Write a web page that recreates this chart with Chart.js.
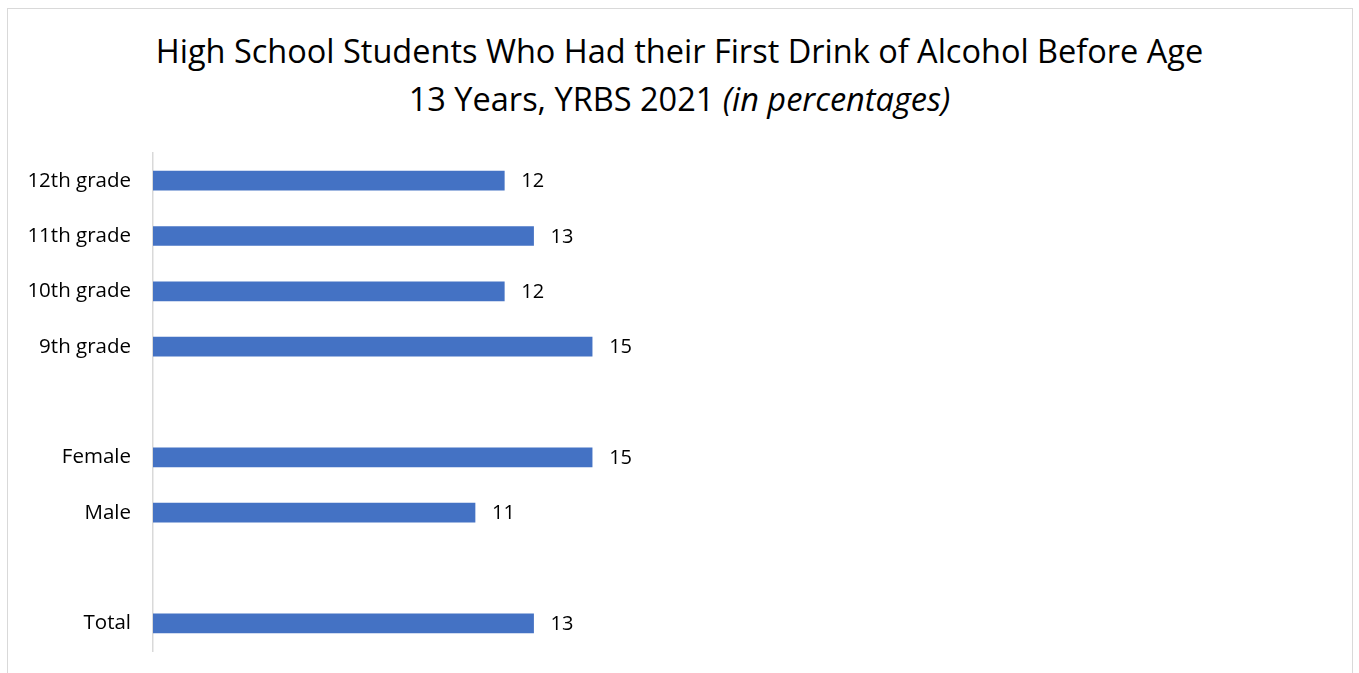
<!DOCTYPE html>
<html lang="en">
<head>
  <meta charset="UTF-8">
  <title>First Drink of Alcohol Before Age 13</title>
  <script src="https://cdn.jsdelivr.net/npm/chart.js"></script>
  <style>
    html, body { margin: 0; padding: 0; background: #fff; overflow: hidden; }
    body { width: 1359px; height: 673px; position: relative; font-family: "Open Sans", sans-serif; }
    .frame { position: absolute; left: 7px; top: 8px; width: 1346px; height: 700px; border: 1px solid #d9d9d9; box-sizing: border-box; }
    .title { position: absolute; left: 0; top: 27px; width: 1359px; text-align: center; font-size: 32.5px; line-height: 48px; color: #000; }
    #wrap { position: absolute; left: 0; top: 0; width: 1359px; height: 673px; }
  </style>
</head>
<body>
  <div class="frame"></div>
  <div class="title">High School Students Who Had their First Drink of Alcohol Before Age<br>13 Years, YRBS 2021 <i>(in percentages)</i></div>
  <div id="wrap"><canvas id="chart"></canvas></div>

  <script>
    // categories top to bottom, empty strings are spacer rows
    const categories = ['12th grade', '11th grade', '10th grade', '9th grade', '', 'Female', 'Male', '', 'Total'];
    const percents = [12, 13, 12, 15, null, 15, 11, null, 13];

    // writes the value just right of each bar
    const valueLabels = {
      id: 'valueLabels',
      afterDatasetsDraw(chart) {
        const ctx = chart.ctx;
        const meta = chart.getDatasetMeta(0);
        ctx.save();
        ctx.font = '20px "Open Sans", sans-serif';
        ctx.fillStyle = '#000';
        ctx.textAlign = 'left';
        ctx.textBaseline = 'middle';
        meta.data.forEach((bar, i) => {
          const v = percents[i];
          if (v == null) return;
          ctx.fillText(String(v), bar.x + 17, bar.y + 1);
        });
        ctx.restore();
      }
    };

    new Chart(document.getElementById('chart'), {
      type: 'bar',
      data: {
        labels: categories,
        datasets: [{
          data: percents,
          backgroundColor: '#4472C4',
          borderWidth: 0,
          barThickness: 19
        }]
      },
      options: {
        indexAxis: 'y',
        responsive: true,
        maintainAspectRatio: false,
        animation: false,
        layout: { padding: { left: 0, top: 153, right: 35, bottom: 22 } },
        plugins: {
          legend: { display: false },
          tooltip: { enabled: false }
        },
        scales: {
          x: { display: false, min: 0, max: 40 },
          y: {
            grid: { display: false, drawTicks: false },
            border: { display: true, color: '#d9d9d9', width: 1.5 },
            ticks: {
              color: '#000',
              padding: 22,
              font: { family: '"Open Sans", sans-serif', size: 20.5 }
            },
            afterFit(scale) {
              scale.width = 153;
              scale.paddingTop = 0;
              scale.paddingBottom = 0;
            }
          }
        }
      },
      plugins: [valueLabels]
    });
  </script>
</body>
</html>
